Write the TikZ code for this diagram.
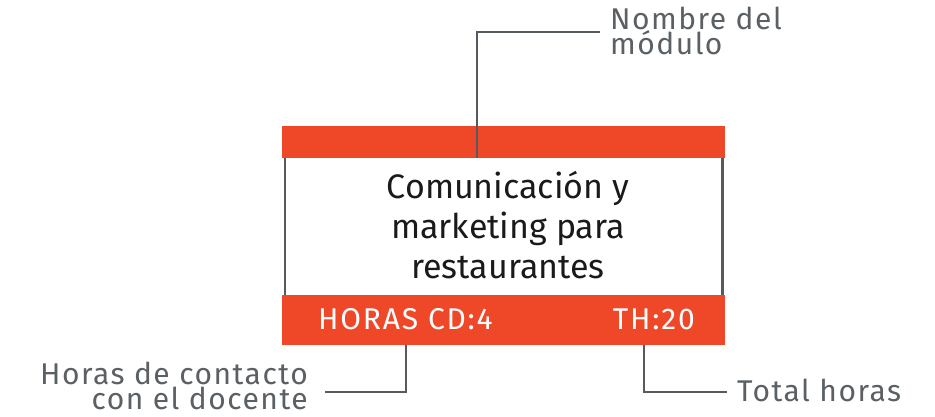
\documentclass[tikz,border=0pt]{standalone}
\usepackage{fontspec}
\setmainfont{Fira Sans}[Scale=1.0]
\definecolor{org}{RGB}{239,72,41}
\definecolor{gl}{RGB}{84,90,94}
\definecolor{gtext}{RGB}{90,96,100}
\definecolor{dark}{RGB}{26,26,26}
\tikzset{
  bar/.style={fill=org, draw=none, inner sep=0pt, anchor=north west, minimum width=443pt},
  gline/.style={draw=gl, line width=2.6pt},
  lbl/.style={text=gtext, inner sep=0pt, font=\fontsize{30}{25}\selectfont\addfontfeature{LetterSpace=5}},
  bartext/.style={text=white, inner sep=0pt, font=\fontsize{30}{30}\selectfont\addfontfeature{LetterSpace=6}}
}
\begin{document}
\begin{tikzpicture}[x=1pt,y=-1pt]
\useasboundingbox (0,0) rectangle (935,416);
\node[bar, minimum height=32pt] (top) at (282,126) {};
\node[bar, minimum height=50pt] (bot) at (282,295) {};
\draw[gline] ([xshift=3pt]top.south west) -- ([xshift=3pt]bot.north west);
\draw[gline] ([xshift=-3pt]top.south east) -- ([xshift=-3pt]bot.north east);
\node[text=dark, align=center, inner sep=0pt, font=\fontsize{34}{40}\selectfont, anchor=base] (title) at (508,278) {Comunicación y\\marketing para\\restaurantes};
\node[bartext, anchor=base west] (hcd) at (318,329) {HORAS CD:4};
\node[bartext, anchor=base east] (th) at (695,329) {TH:20};
\node[lbl, align=left, anchor=base west] (nm) at (610,54) {Nombre del\\módulo};
\node[lbl, align=right, anchor=base east] (hc) at (308,409) {Horas de contacto\\con el docente};
\node[lbl, anchor=base west] (tot) at (737,401) {Total horas};
\coordinate (k1) at (477,32);
\coordinate (k1e) at (600,32);
\coordinate (k2) at (406,392);
\coordinate (k2e) at (325,392);
\coordinate (k3) at (644,392);
\coordinate (k3e) at (727,392);
\draw[gline] (k1 |- top.south) -- (k1) -- (k1e);
\draw[gline] (k2 |- bot.south) -- (k2) -- (k2e);
\draw[gline] (k3 |- bot.south) -- (k3) -- (k3e);
\end{tikzpicture}
\end{document}
